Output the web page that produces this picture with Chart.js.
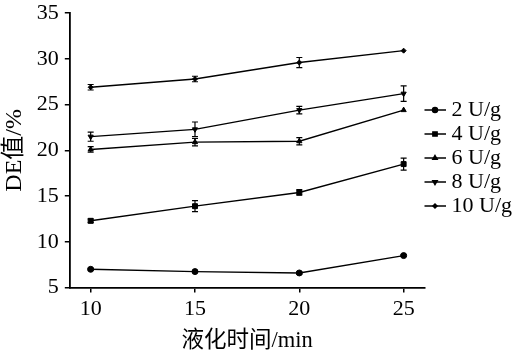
<!DOCTYPE html>
<html lang="zh">
<head>
<meta charset="UTF-8">
<title>DE值 - 液化时间</title>
<script src="https://cdn.jsdelivr.net/npm/chart.js@4"></script>
<style>
  html, body { margin: 0; padding: 0; background: #fff; }
  #wrap { width: 515px; height: 359px; }
</style>
</head>
<body>
<div id="wrap"><canvas id="myChart"></canvas></div>
<script>
// liquefaction time (min)
const times = [10, 15, 20, 25];

// DE value (%) per enzyme dosage
const de2  = [7.0, 6.75, 6.6, 8.5];
const de4  = [12.3, 13.9, 15.4, 18.5];
const de6  = [20.1, 20.9, 21.0, 24.4];
const de8  = [21.5, 22.3, 24.4, 26.2];
const de10 = [26.9, 27.8, 29.6, 30.9];

// error bar half-lengths
const err2  = [0.1, 0.1, 0.15, 0.1];
const err4  = [0.2, 0.6, 0.3, 0.65];
const err6  = [0.3, 0.4, 0.4, 0];
const err8  = [0.5, 0.8, 0.4, 0.85];
const err10 = [0.3, 0.3, 0.55, 0];

const seriesLabels = ['2 U/g', '4 U/g', '6 U/g', '8 U/g', '10 U/g'];
const yTicks = [5, 10, 15, 20, 25, 30, 35];

const FONT = '"Liberation Serif", "Times New Roman", "Noto Sans CJK SC", serif';
const FSIZE = 22;

const markers = [
  { pointStyle: 'circle',   radius: 3,   rotation: 0 },
  { pointStyle: 'rect',     radius: 3.5, rotation: 0 },
  { pointStyle: 'triangle', radius: 3,   rotation: 0 },
  { pointStyle: 'triangle', radius: 3,   rotation: 180 },
  { pointStyle: 'rectRot',  radius: 2.5, rotation: 0 }
];

// legend sample: short line with the marker, sitting at the right of a wider image
function legendIcon(m) {
  const c = document.createElement('canvas');
  c.width = 25; c.height = 10;
  const g = c.getContext('2d');
  g.strokeStyle = '#000';
  g.lineWidth = 1.5;
  g.beginPath(); g.moveTo(3, 5); g.lineTo(25, 5); g.stroke();
  g.fillStyle = '#000';
  Chart.helpers.drawPoint(g, { pointStyle: m.pointStyle, radius: m.radius - 0.5, rotation: m.rotation, borderWidth: 1 }, 14, 5);
  return c;
}

const allValues = [de2, de4, de6, de8, de10];
const allErrors = [err2, err4, err6, err8, err10];

const datasets = allValues.map((vals, i) => ({
  label: seriesLabels[i],
  data: times.map((t, j) => ({ x: t, y: vals[j] })),
  errors: allErrors[i],
  borderColor: '#000',
  backgroundColor: '#000',
  borderWidth: 1.4,
  pointStyle: markers[i].pointStyle,
  pointRadius: markers[i].radius,
  pointRotation: markers[i].rotation,
  pointBorderWidth: 1,
  tension: 0
}));

const errorBars = {
  id: 'errorBars',
  afterDatasetsDraw(chart) {
    const ctx = chart.ctx;
    const ys = chart.scales.y;
    chart.data.datasets.forEach((ds, i) => {
      const meta = chart.getDatasetMeta(i);
      meta.data.forEach((pt, j) => {
        const e = ds.errors[j];
        if (!e) return;
        const v = ds.data[j].y;
        const top = ys.getPixelForValue(v + e);
        const bot = ys.getPixelForValue(v - e);
        ctx.save();
        ctx.strokeStyle = '#000';
        ctx.lineWidth = 1.2;
        ctx.beginPath();
        ctx.moveTo(pt.x, top); ctx.lineTo(pt.x, bot);
        ctx.moveTo(pt.x - 3, top); ctx.lineTo(pt.x + 3, top);
        ctx.moveTo(pt.x - 3, bot); ctx.lineTo(pt.x + 3, bot);
        ctx.stroke();
        ctx.restore();
      });
    });
  }
};

new Chart(document.getElementById('myChart'), {
  type: 'line',
  data: { datasets: datasets },
  options: {
    responsive: true,
    maintainAspectRatio: false,
    animation: false,
    layout: { padding: { top: 0, right: -7, bottom: 4, left: 0 } },
    plugins: {
      tooltip: { enabled: false },
      legend: {
        position: 'right',
        align: 'start',
        title: { display: true, text: ' ', font: { size: 10, lineHeight: 1 }, padding: { top: 87, bottom: 0 } },
        labels: {
          usePointStyle: true,
          pointStyleWidth: 14,
          padding: 2,
          color: '#000',
          font: { family: FONT, size: FSIZE, lineHeight: 1 },
          generateLabels(chart) {
            return chart.data.datasets.map((ds, i) => ({
              text: ds.label,
              pointStyle: legendIcon(markers[i]),
              fillStyle: '#000',
              strokeStyle: '#000',
              fontColor: '#000',
              lineWidth: 0,
              hidden: false,
              datasetIndex: i
            }));
          }
        }
      }
    },
    scales: {
      x: {
        type: 'linear',
        min: 9,
        max: 26,
        afterBuildTicks(axis) { axis.ticks = times.map(v => ({ value: v })); },
        grid: { drawOnChartArea: false, drawTicks: true, tickLength: 5, color: '#000', lineWidth: 1.5 },
        border: { display: true, color: '#000', width: 1.8 },
        ticks: { color: '#000', font: { family: FONT, size: FSIZE }, padding: 3, maxRotation: 0 },
        title: { display: true, text: '液化时间/min', color: '#000', font: { family: FONT, size: 22.5 }, padding: { top: 3, bottom: 0 } }
      },
      y: {
        min: 5,
        max: 35,
        afterBuildTicks(axis) { axis.ticks = yTicks.map(v => ({ value: v })); },
        grid: { drawOnChartArea: false, drawTicks: true, tickLength: 5, color: '#000', lineWidth: 1.5 },
        border: { display: true, color: '#000', width: 1.8 },
        ticks: { color: '#000', font: { family: FONT, size: FSIZE, lineHeight: 0.65 }, padding: 6 },
        title: { display: true, text: 'DE值/%', color: '#000', font: { family: FONT, size: 24 }, padding: { top: 0, bottom: 2 } }
      }
    }
  },
  plugins: [errorBars]
});
</script>
</body>
</html>
